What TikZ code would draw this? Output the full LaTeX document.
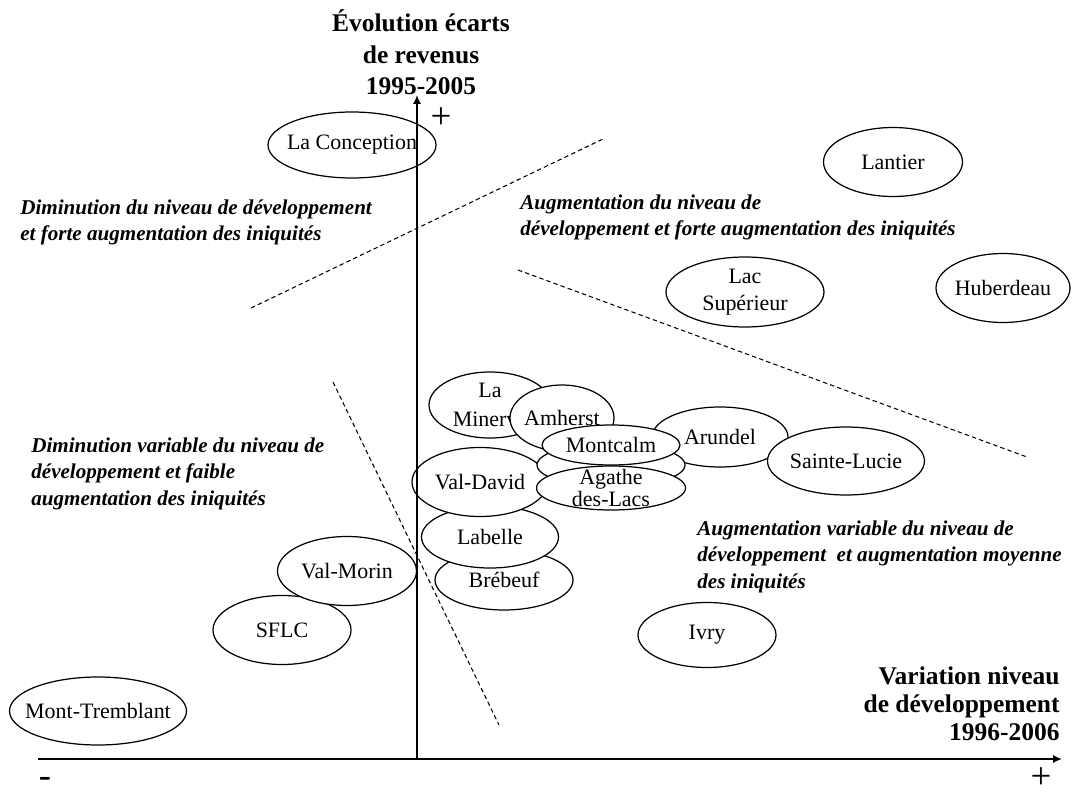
\documentclass[tikz,border=0pt]{standalone}
\usepackage{fontspec}
\setmainfont{Liberation Serif}
\usepackage{tikz}
\usetikzlibrary{shapes.geometric,arrows.meta}

\begin{document}
\begin{tikzpicture} [
    commune/.style={ellipse, draw, fill=white, line width=0.7pt, inner sep=-1.5cm, align=center, font=\fontsize{12.5pt}{15pt}\selectfont},
    zone/.style={anchor=north west, inner sep=0pt, align=left, font=\fontsize{12pt}{14.8pt}\selectfont\bfseries\itshape},
    titre/.style={inner sep=0pt, font=\fontsize{14.5pt}{17.8pt}\selectfont\bfseries},
    signe/.style={inner sep=0pt, font=\fontsize{21pt}{21pt}\selectfont},
    limite/.style={line width=0.6pt, dash pattern=on 2.5pt off 1.8pt},
    axe/.style={line width=1.3pt, -{Latex[length=5pt,width=4.6pt]}},
]
    \useasboundingbox (0,0) rectangle (21.44,15.92);

    \node[commune, minimum width=3.36cm, minimum height=1.32cm] (conception) at (7.04,13.02) {La Conception};
    \node[commune, minimum width=2.78cm, minimum height=1.38cm] (lantier) at (17.86,12.68) {Lantier};
    \node[commune, minimum width=3.16cm, minimum height=1.40cm] (lacsup) at (14.90,10.08) {Lac\\[0.5pt]Supérieur};
    \node[commune, minimum width=2.68cm, minimum height=1.38cm] (huberdeau) at (20.06,10.16) {Huberdeau};

    \node[commune, minimum width=3.54cm, minimum height=1.36cm] (tremblant) at (1.96,1.70) {Mont-Tremblant};
    \node[commune, minimum width=2.76cm, minimum height=1.38cm] (sflc) at (5.64,3.32) {SFLC};
    \node[commune, minimum width=2.78cm, minimum height=1.38cm] (valmorin) at (6.94,4.50) {Val-Morin};
    \node[commune, minimum width=2.76cm, minimum height=1.30cm] (ivry) at (14.14,3.22) {Ivry};

    \node[commune, minimum width=2.76cm, minimum height=1.20cm] (brebeuf) at (10.08,4.32) {Brébeuf};
    \node[commune, minimum width=2.74cm, minimum height=1.24cm] (labelle) at (9.80,5.18) {Labelle};
    \node[commune, minimum width=2.72cm, minimum height=1.38cm] (valdavid) at (9.60,6.28) {Val-David};
    \node[commune, minimum width=2.44cm, minimum height=1.32cm] (minerve) at (9.80,7.82) {La\\[1.5pt]Minerve};
    \node[commune, minimum width=2.08cm, minimum height=1.32cm] (amherst) at (11.24,7.56) {Amherst};
    \node[commune, minimum width=2.72cm, minimum height=1.20cm] (arundel) at (14.40,7.18) {Arundel};
    \node[commune, minimum width=3.14cm, minimum height=1.36cm] (stelucie) at (16.92,6.70) {Sainte-Lucie};
    \node[commune, minimum width=2.96cm, minimum height=0.88cm] (cache) at (12.22,6.62) {};
    \node[commune, minimum width=2.98cm, minimum height=0.88cm] (agathe) at (12.22,6.16) {Agathe\\[-2.8pt]des-Lacs};
    \node[commune, minimum width=2.76cm, minimum height=0.80cm] (montcalm) at (12.22,7.02) {Montcalm};

    \coordinate (l1a) at (5.02,9.76);
    \coordinate (l1b) at (12.06,13.14);
    \coordinate (l2a) at (10.36,10.52);
    \coordinate (l2b) at (20.54,6.78);
    \coordinate (l3a) at (6.66,8.28);
    \coordinate (l3b) at (9.98,1.42);
    \draw[limite] (l1a) -- (l1b)
    (l2a) -- (l2b)
    (l3a) -- (l3b);

    \coordinate (xdeb) at (0.76,0.74);
    \coordinate (xfin) at (21.24,0.74);
    \coordinate (ybas) at (8.34,0.74);
    \coordinate (yhaut) at (8.34,14.02);
    \draw[axe] (xdeb) -- (xfin);
    \draw[axe] (ybas) -- (yhaut);

    \node[titre, align=center, anchor=south] (titrey) at (8.42,14.02) {Évolution écarts\\de revenus\\1995-2005};
    \node[titre, align=right, anchor=south east, font=\fontsize{14.5pt}{15.9pt}\selectfont\bfseries] (titrex) at (21.20,1.10) {Variation niveau\\de développement\\1996-2006};
    \node[signe] (plusy) at (8.82,13.56) {+};
    \node[signe] (plusx) at (20.82,0.36) {+};
    \node[signe] (moins) at (0.90,0.28) {-};

    \node[zone] (zonehg) at (0.40,11.94) {Diminution du niveau de développement\\et forte augmentation des iniquités};
    \node[zone] (zonehd) at (10.40,12.02) {Augmentation du niveau de\\développement et forte augmentation des iniquités};
    \node[zone] (zonebg) at (0.62,7.16) {Diminution variable du niveau de\\développement et faible\\augmentation des iniquités};
    \node[zone] (zonebd) at (13.94,5.50) {Augmentation variable du niveau de\\développement~ et augmentation moyenne\\des iniquités};

\end{tikzpicture}
\end{document}
